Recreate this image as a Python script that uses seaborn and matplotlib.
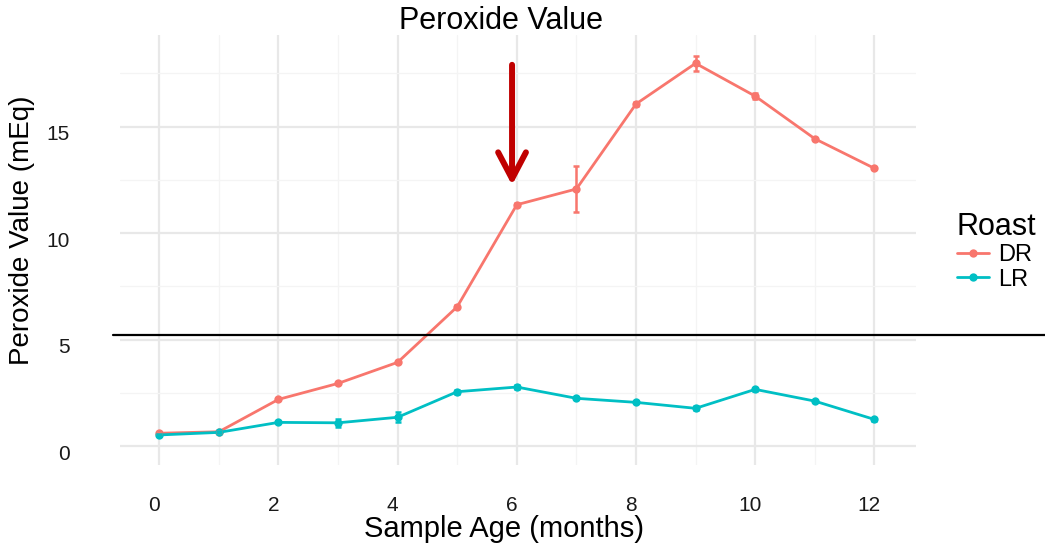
import numpy as np
import pandas as pd
import matplotlib
matplotlib.use('Agg')
import matplotlib.pyplot as plt
import matplotlib.transforms as mtransforms
import seaborn as sns

# data
months = [0, 1, 2, 3, 4, 5, 6, 7, 8, 9, 10, 11, 12]
dr_pv = [0.60, 0.67, 2.19, 2.94, 3.93, 6.54, 11.33, 12.07, 16.06, 17.97, 16.43, 14.43, 13.04]
dr_se = [0.05, 0.05, 0.05, 0.05, 0.05, 0.08, 0.08, 1.08, 0.10, 0.36, 0.15, 0.05, 0.05]
lr_pv = [0.52, 0.64, 1.11, 1.09, 1.35, 2.55, 2.77, 2.24, 2.05, 1.77, 2.66, 2.11, 1.25]
lr_se = [0.05, 0.05, 0.05, 0.20, 0.23, 0.10, 0.08, 0.05, 0.05, 0.10, 0.08, 0.05, 0.08]
roasts = ['DR', 'LR']
colors = {'DR': '#F8766D', 'LR': '#00BFC4'}
threshold = 5.21
arrow_x, arrow_top, arrow_tip = 5.92, 17.9, 12.25

df = pd.DataFrame({
    'Age': months * 2,
    'PV': dr_pv + lr_pv,
    'SE': dr_se + lr_se,
    'Roast': ['DR'] * len(months) + ['LR'] * len(months),
})

sns.set_theme(style='whitegrid')
plt.rcParams['font.family'] = ['Liberation Sans', 'DejaVu Sans']
plt.rcParams['axes.facecolor'] = 'w'
plt.rcParams['text.color'] = 'black'

fig = plt.figure(figsize=(10.45, 5.46), dpi=100)
ax = fig.add_axes([0.1148, 0.1484, 0.7618, 0.7875])

sns.lineplot(data=df, x='Age', y='PV', hue='Roast', hue_order=roasts, palette=colors,
             marker='o', markersize=6, markeredgewidth=0, linewidth=2.0,
             errorbar=None, ax=ax)

for r in roasts:
    sub = df[df['Roast'] == r]
    ax.errorbar(sub['Age'], sub['PV'], yerr=sub['SE'], fmt='none', ecolor=colors[r],
                elinewidth=1.8, capsize=2.5, capthick=1.8, zorder=3)

ax.set_xlim(-0.66, 12.7)
ax.set_ylim(-0.89, 19.3)
ax.set_xticks([0, 2, 4, 6, 8, 10, 12])
ax.set_yticks([0, 5, 10, 15])
ax.set_xticks([1, 3, 5, 7, 9, 11], minor=True)
ax.set_yticks([2.5, 7.5, 12.5, 17.5], minor=True)
ax.grid(which='major', color='#E8E8E8', lw=1.6)
ax.grid(which='minor', color='#F4F4F4', lw=0.9)
for s in ax.spines.values():
    s.set_visible(False)
ax.tick_params(which='both', length=0, labelsize=15, labelcolor='#1a1a1a')
ax.tick_params(axis='y', pad=36)
ax.tick_params(axis='x', pad=22)
ax.set_xlabel('')
ax.set_ylabel('')

# labels sit a few px off their gridlines in the reference
dx = mtransforms.ScaledTranslation(-5 / 100, 0, fig.dpi_scale_trans)
dy = mtransforms.ScaledTranslation(0, -6 / 100, fig.dpi_scale_trans)
for lab in ax.get_xticklabels():
    lab.set_transform(lab.get_transform() + dx)
for lab in ax.get_yticklabels():
    lab.set_transform(lab.get_transform() + dy)

fig.text(0.479, 1 - 21 / 546, 'Peroxide Value', ha='center', va='center', fontsize=22,
         color='black')
fig.text(0.482, 1 - 529 / 546, 'Sample Age (months)', ha='center', va='center', fontsize=21,
         color='black')
fig.text(22 / 1045, 1 - 230 / 546, 'Peroxide Value (mEq)', ha='center', va='center',
         rotation=90, fontsize=20, color='black')

# threshold line runs past the panel to the right edge
ax.axhline(threshold, xmin=-0.009, xmax=1.2, color='black', lw=1.6, clip_on=False, zorder=5)

ax.annotate('', xy=(arrow_x, arrow_tip), xytext=(arrow_x, arrow_top),
            arrowprops=dict(arrowstyle='->,head_length=0.95,head_width=0.5', color='#C00000',
                            lw=4.3, mutation_scale=20, shrinkA=0, shrinkB=0))

leg = ax.legend(title='Roast', loc='upper left', bbox_to_anchor=(945 / 1045, 1 - 200 / 546),
                bbox_transform=fig.transFigure, frameon=False, fontsize=17, title_fontsize=22,
                handlelength=1.35, handletextpad=0.4, labelspacing=0.1, borderpad=0,
                alignment='left')
for t in leg.get_texts():
    t.set_color('black')
leg.get_title().set_color('black')

fig.savefig('out.png', dpi=100)
